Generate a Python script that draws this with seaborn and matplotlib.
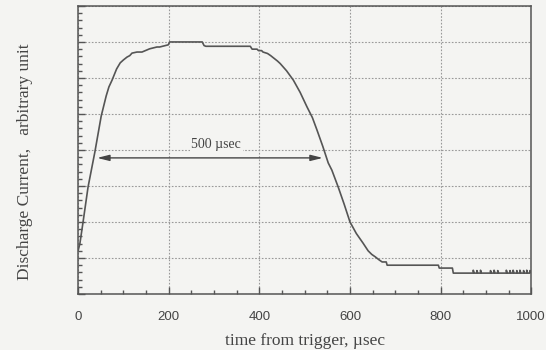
import pandas as pd
import matplotlib.pyplot as plt
from matplotlib.ticker import MultipleLocator, NullFormatter
import seaborn as sns

# Curva de corriente de descarga
time_us = [0, 4, 11, 22, 37, 51, 62, 68, 75, 85, 93, 100, 108, 114,
           119, 130, 141, 158, 174, 180, 199, 202, 274, 278, 282, 380, 384,
           395, 398, 405, 408, 418, 425, 432, 440, 446, 460, 475, 490, 505,
           517, 527, 540, 552, 560, 574, 587, 600, 614, 629, 640, 648, 656,
           664, 671, 680, 682, 795, 797, 826, 828,
           872, 872, 874, 880, 880, 882, 888, 888, 890, 910, 910, 912,
           918, 918, 920, 926, 926, 928, 945, 945, 947, 953, 953, 955,
           960, 960, 962, 968, 968, 970, 975, 975, 977, 983, 983, 985,
           990, 990, 992, 997, 997, 1000]
current = [1.2, 1.4, 2.0, 2.97, 3.94, 4.94, 5.5, 5.75, 5.94, 6.25,
           6.42, 6.5, 6.58, 6.62, 6.69, 6.72, 6.72, 6.81, 6.86, 6.86, 6.92,
           7.0, 7.0, 6.9, 6.88, 6.88, 6.8, 6.8, 6.76, 6.76, 6.72, 6.68,
           6.62, 6.55, 6.47, 6.40, 6.2, 5.94, 5.6, 5.2, 4.9, 4.56, 4.1,
           3.64, 3.44, 2.97, 2.5, 2.0, 1.68, 1.41, 1.2, 1.1, 1.03, 0.95,
           0.89, 0.89, 0.8, 0.8, 0.72, 0.72, 0.58,
           0.58, 0.66, 0.58, 0.58, 0.65, 0.58, 0.58, 0.66, 0.58, 0.58, 0.65,
           0.58, 0.58, 0.66, 0.58, 0.58, 0.65, 0.58, 0.58, 0.66, 0.58,
           0.58, 0.65, 0.58, 0.58, 0.66, 0.58, 0.58, 0.65, 0.58, 0.58,
           0.66, 0.58, 0.58, 0.65, 0.58, 0.58, 0.66, 0.58, 0.58, 0.65, 0.6]

# Flecha de 500 usec
arrow_start, arrow_end, arrow_y = 42, 540, 3.78
arrow_text = '500 µsec'

df = pd.DataFrame({'t': time_us, 'i': current})

bg = '#f4f4f2'
ink = '#555555'

sns.set_theme(style='ticks')
plt.rcParams['font.family'] = ['Liberation Sans', 'DejaVu Sans']

fig = plt.figure(figsize=(5.46, 3.5), dpi=100, facecolor=bg)
ax = fig.add_axes([0.143, 0.16, 0.83, 0.823])
ax.set_facecolor(bg)

sns.lineplot(data=df, x='t', y='i', estimator=None, sort=False,
             color=ink, linewidth=1.2, ax=ax)

ax.set_xlim(0, 1000)
ax.set_ylim(0, 8)

ax.xaxis.set_major_locator(MultipleLocator(200))
ax.xaxis.set_minor_locator(MultipleLocator(50))
ax.yaxis.set_major_locator(MultipleLocator(1))
ax.yaxis.set_minor_locator(MultipleLocator(0.2))
ax.yaxis.set_major_formatter(NullFormatter())

ax.tick_params(axis='both', which='major', direction='in', length=5,
               width=1, color=ink, labelsize=9.5, labelcolor='#444444')
ax.tick_params(axis='both', which='minor', direction='in', length=3,
               width=1, color=ink)
ax.tick_params(axis='x', pad=12)

ax.grid(True, which='major', linestyle=(0, (1.5, 1.5)), color='#999999',
        linewidth=0.8)

for s in ax.spines.values():
    s.set_color(ink)
    s.set_linewidth(1.1)

serif = ['Liberation Serif', 'DejaVu Serif']
ax.set_xlabel('time from trigger, µsec', family=serif, fontsize=12.5,
              color='#444444', labelpad=7.5)
ax.set_ylabel('Discharge Current,   arbitrary unit', family=serif,
              fontsize=12.5, color='#444444')
ax.yaxis.set_label_coords(-0.1, 0.46)

ax.annotate('', xy=(arrow_end, arrow_y), xytext=(arrow_start, arrow_y),
            arrowprops=dict(arrowstyle='<|-|>,head_length=0.6,head_width=0.15',
                            color='#444444', lw=1.0, shrinkA=0, shrinkB=0))
ax.text(305, 4.14, arrow_text, family=serif, fontsize=10, color='#444444',
        ha='center', va='center',
        bbox=dict(facecolor=bg, edgecolor='none', pad=1))

fig.savefig('out.png', dpi=100, facecolor=bg)
